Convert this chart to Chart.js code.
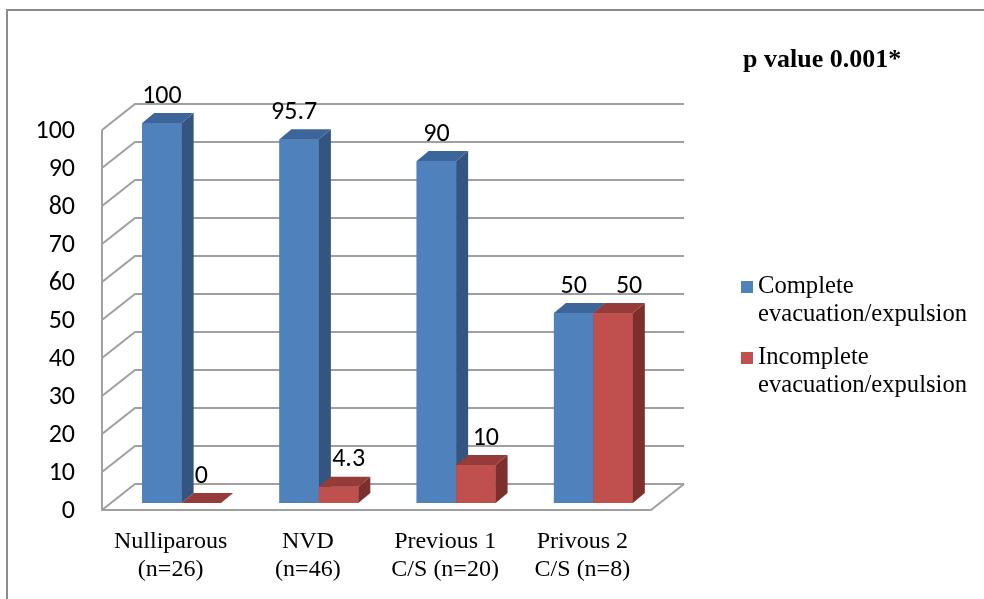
<!DOCTYPE html>
<html>
<head>
<meta charset="utf-8">
<script src="https://cdn.jsdelivr.net/npm/chart.js@4/dist/chart.umd.min.js"></script>
<style>
  html, body { margin: 0; padding: 0; background: #ffffff; }
  #wrap { width: 984px; height: 599px; position: relative; }
</style>
</head>
<body>
<div id="wrap"><canvas id="c" width="984" height="599"></canvas></div>
<script>
// Outcome by parity group (%)
const categories = [
  ['Nulliparous', '(n=26)'],
  ['NVD', '(n=46)'],
  ['Previous 1', 'C/S (n=20)'],
  ['Privous 2', 'C/S (n=8)']
];
const completeValues = [100, 95.7, 90, 50];
const incompleteValues = [0, 4.3, 10, 50];
const seriesNames = [
  ['Complete', 'evacuation/expulsion'],
  ['Incomplete', 'evacuation/expulsion']
];
const yTickValues = [0, 10, 20, 30, 40, 50, 60, 70, 80, 90, 100];
const titleText = 'p value 0.001*';

// Colours for the front, side and top faces of each series
const faceColors = [
  { front: '#4f81bd', side: '#34557f', top: '#3c6699' },
  { front: '#c0504d', side: '#7d2f2d', top: '#953c3a' }
];
// Small horizontal nudges for the value labels
const labelNudge = [[0, -5, 0, 0], [0, 10, 10, 16]];

const SANS = "Carlito, Calibri, 'Liberation Sans', Arial, sans-serif";
const SERIF = "'Liberation Serif', 'Times New Roman', serif";

// Depth geometry relative to the plane the bars stand on
const FRONT = { dx: -11, dy: 7 };   // front edge of the floor / left wall
const BACK = { dx: 22, dy: -19 };   // back wall
const BAR_DEPTH = { dx: 12, dy: -10 };

const box3d = {
  id: 'box3d',
  beforeDatasetsDraw(chart) {
    const ctx = chart.ctx;
    const ca = chart.chartArea;
    const y = chart.scales.y;
    ctx.save();

    // outer frame
    ctx.strokeStyle = '#8c8c8c';
    ctx.lineWidth = 2;
    ctx.beginPath();
    ctx.moveTo(7, 599);
    ctx.lineTo(7, 10);
    ctx.lineTo(990, 10);
    ctx.stroke();

    ctx.strokeStyle = '#a0a0a0';
    ctx.lineWidth = 2;
    ctx.lineJoin = 'miter';
    const fx0 = ca.left + FRONT.dx;
    const bx0 = ca.left + BACK.dx;
    const bx1 = ca.right + BACK.dx;
    const fx1 = ca.right + FRONT.dx;
    // gridlines: slanted across the side wall, then along the back wall
    yTickValues.forEach(v => {
      const py = y.getPixelForValue(v);
      ctx.beginPath();
      ctx.moveTo(fx0, py + FRONT.dy);
      ctx.lineTo(bx0, py + BACK.dy);
      ctx.lineTo(bx1, py + BACK.dy);
      ctx.stroke();
    });
    // front vertical edge of the side wall, then the floor outline
    const yTop = y.getPixelForValue(100);
    const yBase = y.getPixelForValue(0);
    ctx.beginPath();
    ctx.moveTo(fx0, yTop + FRONT.dy);
    ctx.lineTo(fx0, yBase + FRONT.dy);
    ctx.lineTo(fx1, yBase + FRONT.dy);
    ctx.lineTo(bx1, yBase + BACK.dy);
    ctx.stroke();
    ctx.restore();
  },
  afterDatasetsDraw(chart) {
    const ctx = chart.ctx;
    const n = chart.data.labels.length;
    ctx.save();
    for (let i = 0; i < n; i++) {
      chart.data.datasets.forEach((ds, d) => {
        const bar = chart.getDatasetMeta(d).data[i];
        const c = faceColors[d];
        const l = bar.x - bar.width / 2;
        const r = bar.x + bar.width / 2;
        const top = bar.y;
        const base = bar.base;
        // front face
        ctx.fillStyle = c.front;
        ctx.fillRect(l, top, r - l, base - top);
        // side face
        ctx.fillStyle = c.side;
        ctx.beginPath();
        ctx.moveTo(r, top);
        ctx.lineTo(r + BAR_DEPTH.dx, top + BAR_DEPTH.dy);
        ctx.lineTo(r + BAR_DEPTH.dx, base + BAR_DEPTH.dy);
        ctx.lineTo(r, base);
        ctx.closePath();
        ctx.fill();
        // top face
        ctx.fillStyle = c.top;
        ctx.beginPath();
        ctx.moveTo(l, top);
        ctx.lineTo(l + BAR_DEPTH.dx, top + BAR_DEPTH.dy);
        ctx.lineTo(r + BAR_DEPTH.dx, top + BAR_DEPTH.dy);
        ctx.lineTo(r, top);
        ctx.closePath();
        ctx.fill();
      });
    }
    // value labels
    ctx.fillStyle = '#000';
    ctx.font = '26px ' + SANS;
    ctx.textAlign = 'center';
    ctx.textBaseline = 'middle';
    chart.data.datasets.forEach((ds, d) => {
      chart.getDatasetMeta(d).data.forEach((bar, i) => {
        ctx.fillText(String(ds.data[i]), bar.x + labelNudge[d][i], bar.y - 27);
      });
    });
    ctx.restore();
  },
  afterDraw(chart) {
    const ctx = chart.ctx;
    ctx.save();
    // title
    ctx.fillStyle = '#000';
    ctx.font = 'bold 26px ' + SERIF;
    ctx.textAlign = 'left';
    ctx.textBaseline = 'middle';
    ctx.fillText(titleText, 743, 60);
    // legend
    ctx.font = '24.6px ' + SERIF;
    const rows = [287, 358];
    chart.data.datasets.forEach((ds, d) => {
      const cy = rows[d];
      ctx.fillStyle = faceColors[d].front;
      ctx.fillRect(741, cy - 6, 12, 12);
      ctx.fillStyle = '#000';
      seriesNames[d].forEach((line, k) => {
        ctx.fillText(line, 758, cy + k * 28);
      });
    });
    ctx.restore();
  }
};

new Chart(document.getElementById('c'), {
  type: 'bar',
  data: {
    labels: categories,
    datasets: [
      { label: seriesNames[0].join(' '), data: completeValues, backgroundColor: faceColors[0].front },
      { label: seriesNames[1].join(' '), data: incompleteValues, backgroundColor: faceColors[1].front }
    ]
  },
  options: {
    responsive: false,
    animation: false,
    devicePixelRatio: 1,
    categoryPercentage: 0.575,
    barPercentage: 1,
    layout: { padding: { top: 123, right: 322, left: 0, bottom: 0 } },
    plugins: { legend: { display: false }, tooltip: { enabled: false } },
    scales: {
      x: {
        grid: { display: false, drawTicks: false },
        border: { display: false },
        ticks: {
          color: '#000',
          font: { family: SERIF, size: 24, lineHeight: 1.17 },
          labelOffset: -11,
          padding: 25,
          maxRotation: 0,
          autoSkip: false
        },
        afterFit(s) { s.height = 96; }
      },
      y: {
        min: 0,
        max: 100,
        afterBuildTicks(s) { s.ticks = yTickValues.map(v => ({ value: v })); },
        grid: { display: false, drawTicks: false },
        border: { display: false },
        ticks: {
          color: '#000',
          font: { family: SANS, size: 26 },
          labelOffset: 8,
          padding: 38
        },
        afterFit(s) { s.width = 113; }
      }
    }
  },
  plugins: [box3d]
});
</script>
</body>
</html>
